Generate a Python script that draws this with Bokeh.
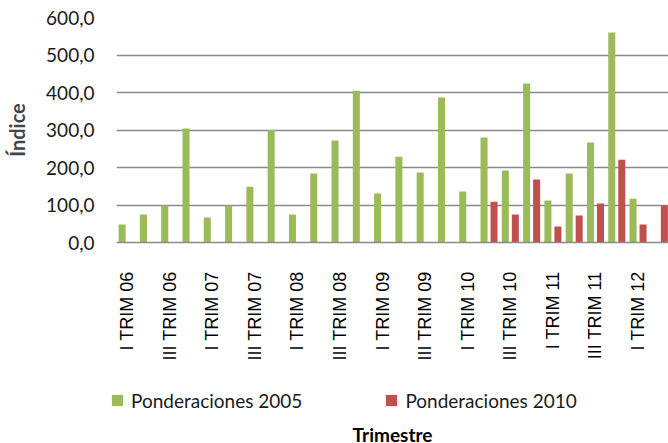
import numpy as np
from bokeh.plotting import figure
from bokeh.layouts import column
from bokeh.models import ColumnDataSource, Range1d, FixedTicker, Legend, LegendItem, Label
from bokeh.transform import dodge
from bokeh.embed import file_html
from bokeh.resources import INLINE

quarters = ["I TRIM 06", "II TRIM 06", "III TRIM 06", "IV TRIM 06",
            "I TRIM 07", "II TRIM 07", "III TRIM 07", "IV TRIM 07",
            "I TRIM 08", "II TRIM 08", "III TRIM 08", "IV TRIM 08",
            "I TRIM 09", "II TRIM 09", "III TRIM 09", "IV TRIM 09",
            "I TRIM 10", "II TRIM 10", "III TRIM 10", "IV TRIM 10",
            "I TRIM 11", "II TRIM 11", "III TRIM 11", "IV TRIM 11",
            "I TRIM 12", "II TRIM 12"]
pond_2005 = [48, 75, 99, 304, 67, 99, 149, 300, 75, 184, 272, 405, 131,
             229, 187, 387, 136, 280, 192, 424, 112, 184, 267, 560, 117]
pond_2010_start = 17
pond_2010 = [109, 75, 168, 43, 72, 104, 221, 48, 99]
y_ticks = [0, 100, 200, 300, 400, 500, 600]
y_labels = ["0,0", "100,0", "200,0", "300,0", "400,0", "500,0", "600,0"]
series_names = ["Ponderaciones 2005", "Ponderaciones 2010"]
x_title = "Trimestre"
y_title = "Índice"

GREEN = "#9BBB59"
RED = "#C0504D"

idx = list(range(len(quarters)))
src05 = ColumnDataSource(dict(x=idx[:len(pond_2005)], y=pond_2005))
src10 = ColumnDataSource(dict(x=idx[pond_2010_start:pond_2010_start + len(pond_2010)], y=pond_2010))

p = figure(width=668, height=375, output_backend="svg", toolbar_location=None,
           x_range=Range1d(-0.5, 25.43), y_range=Range1d(0, 600),
           min_border_left=116, min_border_right=0, min_border_top=17,
           min_border_bottom=133)
p.outline_line_color = None
p.background_fill_color = "white"

r05 = p.vbar(x=dodge("x", -0.235, range=p.x_range), top="y", width=0.33, source=src05,
             fill_color=GREEN, line_color=None)
r10 = p.vbar(x=dodge("x", 0.235, range=p.x_range), top="y", width=0.33, source=src10,
             fill_color=RED, line_color=None)

# x axis
p.xaxis.ticker = FixedTicker(ticks=idx[::2])
p.xaxis.major_label_overrides = {i: quarters[i] for i in idx[::2]}
p.xaxis.major_label_orientation = np.pi / 2
p.xaxis.major_label_text_font = "Liberation Sans"
p.xaxis.major_label_text_font_size = "18px"
p.xaxis.major_label_text_color = "#000000"
p.xaxis.major_label_standoff = 23
p.xaxis.major_tick_line_color = None
p.xaxis.minor_tick_line_color = None
p.xaxis.axis_line_color = "#8a8a8a"
p.xaxis.axis_line_width = 1.5
p.xgrid.grid_line_color = None

# y axis
p.yaxis.ticker = FixedTicker(ticks=y_ticks)
p.yaxis.major_label_overrides = {t: l for t, l in zip(y_ticks, y_labels)}
p.yaxis.major_label_text_font = "Lato"
p.yaxis.major_label_text_font_size = "19px"
p.yaxis.major_label_text_color = "#1a1a1a"
p.yaxis.major_label_standoff = 16
p.yaxis.major_tick_line_color = None
p.yaxis.minor_tick_line_color = None
p.yaxis.axis_line_color = None
p.yaxis.axis_label = y_title
p.yaxis.axis_label_text_font = "Lato"
p.yaxis.axis_label_text_font_style = "bold"
p.yaxis.axis_label_text_font_size = "20px"
p.yaxis.axis_label_standoff = 14
p.ygrid.grid_line_color = "#8a8a8a"
p.ygrid.grid_line_width = 1.5

# bottom strip: legend and x title (own frame covering the full width)
p2 = figure(width=668, height=68, output_backend="svg", toolbar_location=None,
            x_range=Range1d(1000, 1001), y_range=Range1d(1000, 1001),
            x_axis_type=None, y_axis_type=None, frame_align=False,
            min_border_left=0, min_border_right=0, min_border_top=0, min_border_bottom=0)
p2.outline_line_color = None
p2.xgrid.grid_line_color = None
p2.ygrid.grid_line_color = None
g05 = p2.scatter(x="x", y="y", marker="square", source=src05,
                 fill_color=GREEN, line_color=None)
g10 = p2.scatter(x="x", y="y", marker="square", source=src10,
                 fill_color=RED, line_color=None)

legend = Legend(items=[LegendItem(label=series_names[0], renderers=[g05]),
                       LegendItem(label=series_names[1], renderers=[g10])],
                location=(103, 29), orientation="horizontal",
                glyph_width=28, glyph_height=28, label_standoff=0, spacing=75,
                label_height=20,
                padding=0, margin=0, border_line_color=None, background_fill_alpha=0,
                label_text_font="Lato", label_text_font_size="19px",
                label_text_color="#1a1a1a")
p2.add_layout(legend, "center")

p2.add_layout(Label(x=392, y=9, x_units="screen", y_units="screen", text=x_title,
                    text_align="center", text_baseline="middle", text_font="Lato",
                    text_font_style="bold", text_font_size="19px", text_color="#000000"))

layout = column(p, p2, spacing=0)
open("out.html", "w").write(file_html(layout, INLINE))
